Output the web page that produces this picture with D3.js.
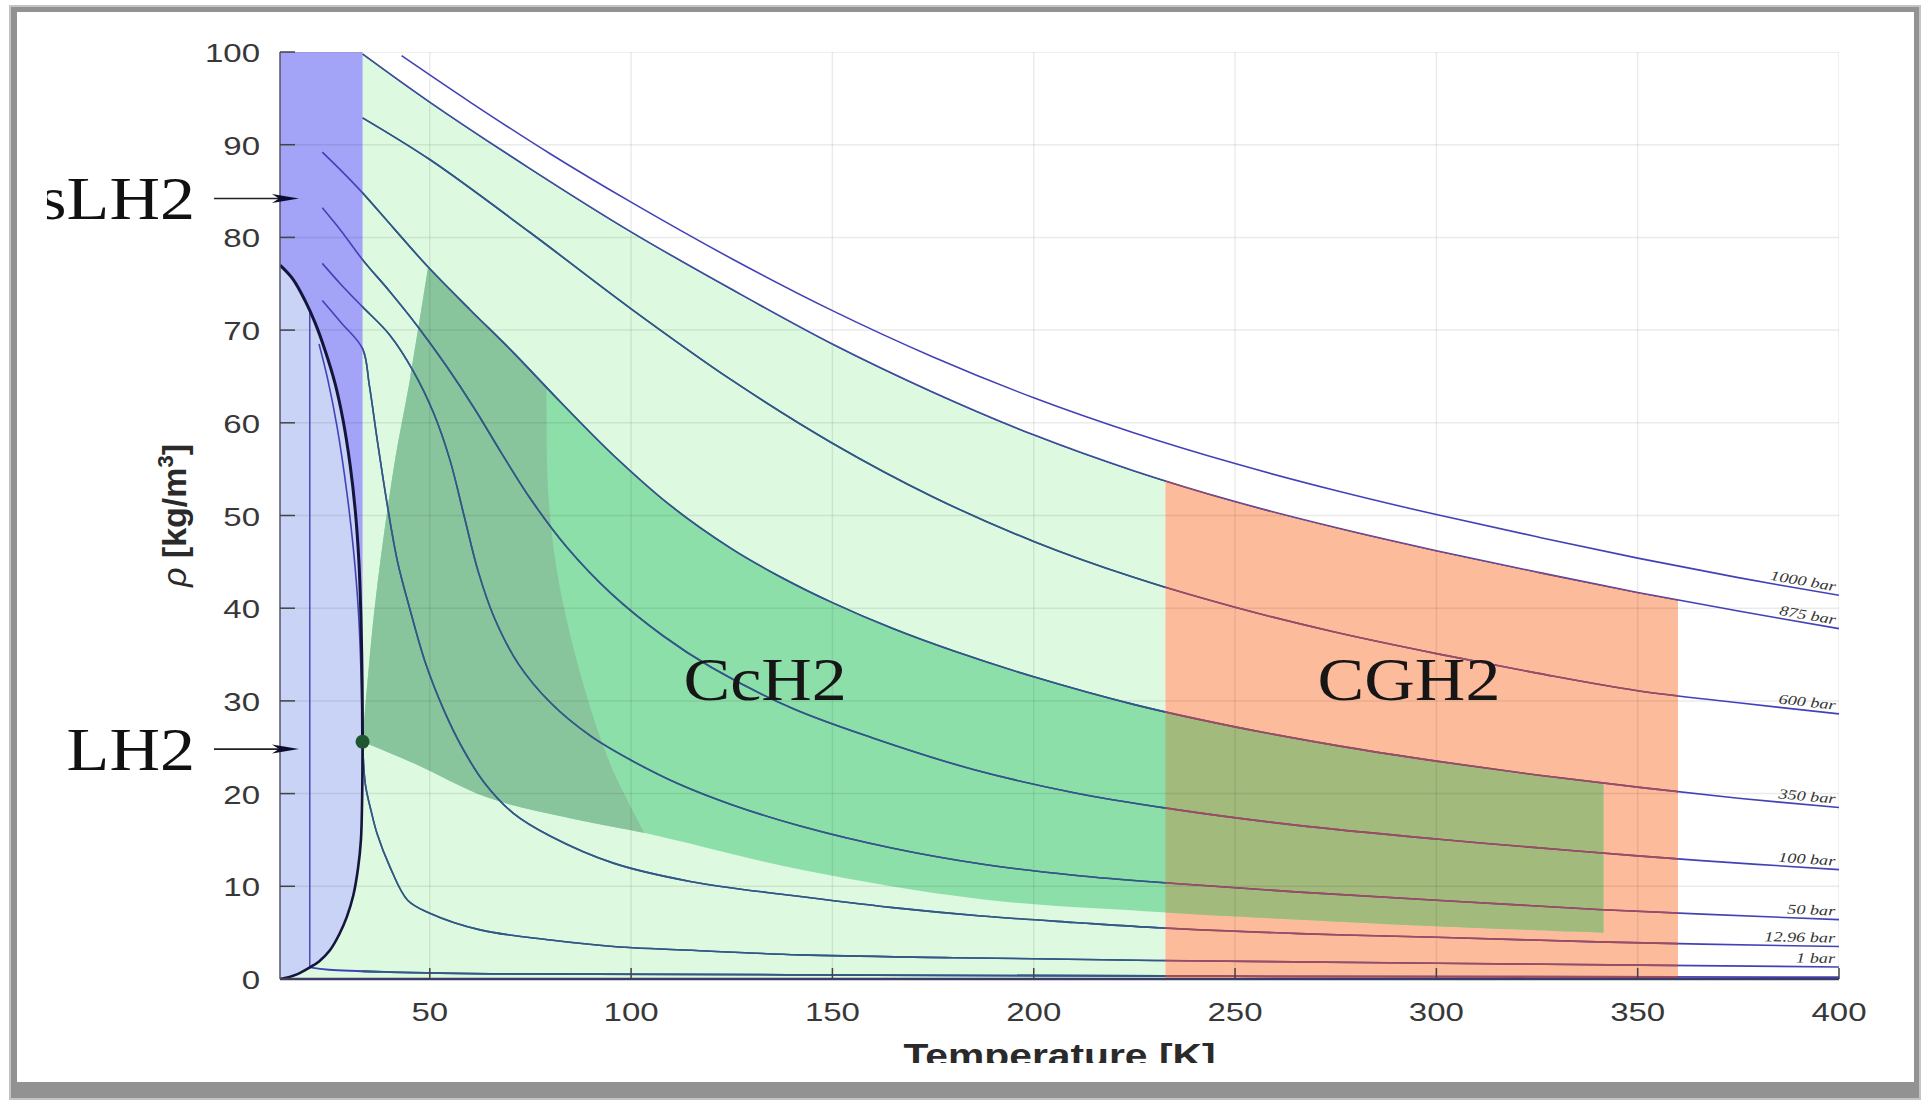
<!DOCTYPE html>
<html>
<head>
<meta charset="utf-8">
<script src="https://cdn.jsdelivr.net/npm/d3@7"></script>
<style>
html, body { margin: 0; padding: 0; background: #fff; }
svg { display: block; }
</style>
</head>
<body>
<svg id="chart" width="1926" height="1103"></svg>
<script>
// hydrogen density vs temperature with storage regions

var t_min = 12.8, t_max = 400;
var x_ticks = [50, 100, 150, 200, 250, 300, 350, 400];
var y_ticks = [0, 10, 20, 30, 40, 50, 60, 70, 80, 90, 100];

var isobar_names = ["1000 bar", "875 bar", "600 bar", "350 bar", "100 bar", "50 bar", "12.96 bar", "1 bar"];

// isobars as [T (K), rho (kg/m3)]
var p1000 = [[43,99.6],[60,94.6],[80,89],[100,83.8],[125,77.7],[150,72.1],[175,67.1],[200,62.7],[225,58.9],[250,55.6],[275,52.7],[300,50.1],[325,47.7],[350,45.4],[375,43.3],[400,41.4]];
var p875 = [[33.3,99.8],[50,94.6],[75,87.4],[100,80.6],[125,74.4],[150,68.5],[175,63.3],[200,58.7],[225,54.8],[250,51.5],[275,48.7],[300,46.2],[325,43.9],[350,41.7],[375,39.7],[400,37.8]];
var p600 = [[33.3,92.9],[50,88.4],[75,80.5],[100,72.3],[125,64.6],[150,57.8],[175,52],[200,47.2],[225,43.3],[250,40.1],[275,37.4],[300,35.1],[325,33],[350,31.1],[375,29.8],[400,28.6]];
var p350 = [[23.3,89.2],[28,87.2],[33.3,84.8],[41,81],[49.6,76.8],[60,72.2],[70.7,67.6],[83,62],[95.6,56.5],[110,51],[125,46.4],[137,43.4],[150,40.6],[165,37.8],[180,35.4],[200,32.6],[225,29.6],[250,27.2],[275,25.2],[300,23.5],[325,22],[350,20.7],[375,19.5],[400,18.5]];
var p100 = [[23.3,83.2],[28,80.7],[33.3,77.6],[40,74.2],[47,70.4],[54,66.2],[61,61.6],[68,56.6],[75,51.8],[84,46.6],[95,41.6],[108,37],[120,33.6],[140,29.2],[160,26],[185,22.6],[210,20.1],[235,18.3],[265,16.6],[300,15.1],[335,13.8],[365,12.8],[400,11.8]];
var p50 = [[23.3,77.2],[28,74.9],[33.3,72.5],[40,69.5],[46,65.5],[51,61],[55,56],[58.5,50],[62,44],[66,39],[72,34],[80,29.8],[90,26.2],[100,23.6],[112,21],[125,18.8],[142,16.5],[165,14.1],[187,12.4],[210,11.2],[235,10.3],[265,9.4],[300,8.5],[340,7.5],[400,6.4]];
var p12 = [[23.3,73.2],[28,70.8],[33.3,68],[35,64],[37,58],[39.5,51],[42,45],[45,40],[49,34],[53.5,29],[58,25],[63.5,21.2],[70.7,17.9],[80,15.4],[95.6,12.5],[115,10.5],[140,9],[165,7.7],[187,6.8],[210,6.1],[232,5.5],[266,4.9],[300,4.5],[340,4],[400,3.5]];
var p1 = [[22.5,68.5],[24.7,64.6],[27,59.5],[29.4,52.5],[31,46.5],[32.3,39.5],[33,32],[33.3,25.6],[34,21],[35.5,18],[36.9,15.7],[40.1,12.1],[44.5,8.5],[50,7.1],[62.5,5.3],[80,4.2],[95.6,3.5],[120,3],[142,2.6],[180,2.3],[230,2],[300,1.7],[400,1.3]];
var isobars = [p1000, p875, p600, p350, p100, p50, p12, p1];

// boiling line at 1 bar and the low pressure gas line along the axis
var boil_line = [[20.2,72],[20.2,1.25]];
var low_line = [[20.2,1.25],[25,1],[40,0.75],[70,0.55],[142,0.45],[250,0.3],[400,0.2]];

// saturation dome
var dome_liquid = [[12.8,77],[16,75.5],[19,73.2],[21.5,70.8],[24,67.8],[26.5,64.2],[28.5,60.2],[30.2,55.5],[31.5,50.5],[32.4,45],[32.9,39],[33.2,32],[33.3,25.6]];
var dome_vapor = [[12.8,0],[14,0.1],[17,0.5],[20.2,1.25],[22.5,1.9],[25.2,3.1],[27.5,4.8],[29.4,6.7],[31,9],[32.2,12],[32.9,15],[33.2,19.5],[33.3,25.6]];
var critical = [33.3, 25.6];

// cryo-compressed band (CcH2)
var band_left = [[33.3,25.6],[36.3,40],[41,55],[45.2,65],[49.6,76.8]];
var band_low = [[33.3,25.6],[45.9,23.3],[64.2,19.6],[83.2,17.5],[104,15.7],[142,11.8],[187,8.6],[232,7.2],[266,6.4],[300,5.7],[341.5,5.0]];
var band_end = 341.5;
var dark_right = [[79,63.8],[79.5,52],[82,43],[88,32],[95,23],[103.3,15.8]];

// compressed gas (CGH2) temperature range
var cgh2_range = [232.7, 360];

var region_labels = [["CcH2", 133.3, 30.1], ["CGH2", 293.2, 30.1]];
var arrow_labels = [["sLH2", 84.2], ["LH2", 24.8]];

var svg = d3.select("#chart");
var x = d3.scaleLinear().domain([t_min, t_max]).range([280, 1839]);
var y = d3.scaleLinear().domain([0, 100]).range([979, 52]);

var line = d3.line()
	.x(function(d) { return x(d[0]); })
	.y(function(d) { return y(d[1]); })
	.curve(d3.curveCatmullRom.alpha(0.5));

function seg(pts) {
	return line(pts).replace(/^M/, "L");
}

function at(pts, t) {
	for (var i = 1; i < pts.length; i++) {
		if (pts[i][0] >= t) {
			var a = pts[i-1], b = pts[i];
			return a[1] + (b[1] - a[1]) * (t - a[0]) / (b[0] - a[0]);
		}
	}
	return pts[pts.length-1][1];
}

function cut(pts, a, b) {
	var out = [[a, at(pts, a)]];
	pts.forEach(function(p) {
		if (p[0] > a && p[0] < b) out.push(p);
	});
	out.push([b, at(pts, b)]);
	return out;
}

function pt(t, r) {
	return x(t) + "," + y(r);
}

var defs = svg.append("defs");

// outer frame
svg.append("rect").attr("x", 9).attr("y", 5).attr("width", 1912).attr("height", 1095).attr("fill", "#c4c4c4");
svg.append("rect").attr("x", 11).attr("y", 7).attr("width", 1908).attr("height", 1091).attr("fill", "#929292");
svg.append("rect").attr("x", 17).attr("y", 12).attr("width", 1897).attr("height", 1070).attr("fill", "#fff");

defs.append("clipPath").attr("id", "plotClip")
	.append("rect")
	.attr("x", x(t_min)).attr("y", y(100))
	.attr("width", x(t_max) - x(t_min)).attr("height", y(0) - y(100));

var crit_t = critical[0];

var green_path = "M" + pt(t_min, 0) + "L" + pt(t_min, at(p875, crit_t)) +
	seg(cut(p875, crit_t, cgh2_range[0])) + "L" + pt(cgh2_range[0], 0) + "Z";
var green_zone = "M" + pt(crit_t, 0) + "L" + pt(crit_t, at(p875, crit_t)) +
	seg(cut(p875, crit_t, cgh2_range[0])) + "L" + pt(cgh2_range[0], 0) + "Z";
var orange_path = line(cut(p875, cgh2_range[0], cgh2_range[1])) +
	"L" + pt(cgh2_range[1], 0) + "L" + pt(cgh2_range[0], 0) + "Z";
var purple_path = "M" + pt(t_min, 100) + "L" + pt(crit_t, 100) +
	seg(dome_liquid.slice().reverse()) + "Z";
var blue_path = line(dome_liquid) + seg(dome_vapor.slice().reverse()) + "Z";

var top_t = band_left[band_left.length-1][0];
var band_path = line(band_left) + seg(cut(p350, top_t, band_end)) +
	seg(band_low.slice().reverse()) + "Z";
var dark_path = line(band_left) + seg(cut(p350, top_t, dark_right[0][0])) +
	seg(dark_right) + seg(cut(band_low, crit_t, dark_right[dark_right.length-1][0]).reverse()) + "Z";

defs.append("clipPath").attr("id", "clipGreen").append("path").attr("d", green_zone);
defs.append("clipPath").attr("id", "clipOrange").append("path").attr("d", orange_path);
defs.append("clipPath").attr("id", "clipCgh2").append("rect")
	.attr("x", x(cgh2_range[0])).attr("y", y(100))
	.attr("width", x(cgh2_range[1]) - x(cgh2_range[0])).attr("height", y(0) - y(100));

var plot = svg.append("g").attr("clip-path", "url(#plotClip)");

plot.append("path").attr("d", green_path).attr("fill", "#ddf9df");
plot.append("path").attr("d", orange_path).attr("fill", "#fcbb9b");
plot.append("path").attr("d", band_path).attr("fill", "#8ddfaa");
plot.append("path").attr("d", dark_path).attr("fill", "#89c59c");
plot.append("path").attr("d", band_path).attr("fill", "#a3ba7d").attr("clip-path", "url(#clipCgh2)");
plot.append("path").attr("d", purple_path).attr("fill", "#a3a3f7");
plot.append("path").attr("d", blue_path).attr("fill", "#c8d3f6");

// grid
var grid = plot.append("g").attr("stroke", "#000").attr("stroke-opacity", 0.08).attr("stroke-width", 1.5);
x_ticks.forEach(function(t) {
	grid.append("line").attr("x1", x(t)).attr("x2", x(t)).attr("y1", y(0)).attr("y2", y(100));
});
y_ticks.forEach(function(r) {
	grid.append("line").attr("x1", x(t_min)).attr("x2", x(t_max)).attr("y1", y(r)).attr("y2", y(r));
});

// isobars, tinted inside the coloured regions
function draw_lines(g, color) {
	isobars.forEach(function(pts) {
		g.append("path").attr("d", line(pts)).attr("fill", "none")
			.attr("stroke", color).attr("stroke-width", 1.6);
	});
	g.append("path").attr("d", "M" + pt(boil_line[0][0], boil_line[0][1]) + "L" + pt(boil_line[1][0], boil_line[1][1]))
		.attr("fill", "none").attr("stroke", color).attr("stroke-width", 1.4);
	g.append("path").attr("d", line(low_line)).attr("fill", "none")
		.attr("stroke", color).attr("stroke-width", 1.8);
}
draw_lines(plot.append("g"), "#4242b8");
draw_lines(plot.append("g").attr("clip-path", "url(#clipGreen)"), "#2f5c7e");
draw_lines(plot.append("g").attr("clip-path", "url(#clipOrange)"), "#a34c58");

// dome
plot.append("path").attr("d", line(dome_liquid)).attr("fill", "none").attr("stroke", "#14143c").attr("stroke-width", 3);
plot.append("path").attr("d", line(dome_vapor)).attr("fill", "none").attr("stroke", "#14143c").attr("stroke-width", 2.6);
svg.append("circle").attr("cx", x(critical[0])).attr("cy", y(critical[1])).attr("r", 7).attr("fill", "#1f5631");

// axes
svg.append("line").attr("x1", x(t_min)).attr("x2", x(t_min)).attr("y1", y(0)).attr("y2", y(100))
	.attr("stroke", "#55556a").attr("stroke-width", 1.5);
svg.append("line").attr("x1", x(t_min)).attr("x2", x(t_max)).attr("y1", y(0)).attr("y2", y(0))
	.attr("stroke", "#3c3c66").attr("stroke-width", 2.5);

x_ticks.forEach(function(t) {
	svg.append("line").attr("x1", x(t)).attr("x2", x(t)).attr("y1", y(0)).attr("y2", y(0) - 11)
		.attr("stroke", "#444").attr("stroke-width", 1.5);
	svg.append("text")
		.attr("transform", "translate(" + x(t) + "," + (y(0) + 42) + ") scale(1.27,1)")
		.attr("text-anchor", "middle")
		.attr("font-family", "'Liberation Sans', Arial, sans-serif")
		.attr("font-size", 26).attr("fill", "#383838")
		.text(t);
});
y_ticks.forEach(function(r) {
	svg.append("line").attr("x1", x(t_min)).attr("x2", x(t_min) + 15).attr("y1", y(r)).attr("y2", y(r))
		.attr("stroke", "#444").attr("stroke-width", 1.5);
	svg.append("text")
		.attr("transform", "translate(" + (x(t_min) - 20) + "," + (y(r) + 10) + ") scale(1.27,1)")
		.attr("text-anchor", "end")
		.attr("font-family", "'Liberation Sans', Arial, sans-serif")
		.attr("font-size", 26).attr("fill", "#383838")
		.text(r);
});

// axis titles
defs.append("clipPath").attr("id", "xlabClip").append("rect")
	.attr("x", 0).attr("y", 0).attr("width", 1926).attr("height", 1063);
svg.append("g").attr("clip-path", "url(#xlabClip)")
	.append("text")
	.attr("transform", "translate(" + ((x(t_min) + x(t_max)) / 2) + ",1067) scale(1.2,1)")
	.attr("text-anchor", "middle")
	.attr("font-family", "'Liberation Sans', Arial, sans-serif")
	.attr("font-size", 34).attr("font-weight", "bold").attr("fill", "#2a2a2a")
	.text("Temperature [K]");

var ylab = svg.append("text")
	.attr("transform", "translate(186," + ((y(0) + y(100)) / 2) + ") rotate(-90)")
	.attr("text-anchor", "middle")
	.attr("font-family", "'Liberation Sans', Arial, sans-serif")
	.attr("font-size", 34).attr("font-weight", "bold").attr("fill", "#2a2a2a");
ylab.append("tspan").attr("font-style", "italic").attr("font-weight", "normal").text("ρ");
ylab.append("tspan").text(" [kg/m");
ylab.append("tspan").attr("font-size", 22).attr("dy", -13).text("3");
ylab.append("tspan").attr("dy", 13).text("]");

// isobar labels at the right end
isobars.forEach(function(pts, i) {
	var a = pts[pts.length-2], b = pts[pts.length-1];
	var ang = Math.atan2(y(b[1]) - y(a[1]), x(b[0]) - x(a[0])) * 180 / Math.PI;
	svg.append("text")
		.attr("transform", "translate(" + (x(b[0]) - 4) + "," + (y(b[1]) - 4) + ") rotate(" + ang + ") scale(1.3,1)")
		.attr("text-anchor", "end")
		.attr("font-family", "'Liberation Serif', 'Times New Roman', serif")
		.attr("font-style", "italic")
		.attr("font-size", 14).attr("fill", "#333")
		.text(isobar_names[i]);
});

// region names
region_labels.forEach(function(d) {
	svg.append("text")
		.attr("transform", "translate(" + x(d[1]) + "," + y(d[2]) + ") scale(1.13,1)")
		.attr("text-anchor", "middle")
		.attr("font-family", "'Liberation Serif', 'Times New Roman', serif")
		.attr("font-size", 62).attr("fill", "#161616")
		.text(d[0]);
});

// sLH2 / LH2 arrows
defs.append("clipPath").attr("id", "leftClip").append("rect")
	.attr("x", 47).attr("y", 0).attr("width", 1900).attr("height", 1103);
var left_g = svg.append("g").attr("clip-path", "url(#leftClip)");
arrow_labels.forEach(function(d) {
	var yy = y(d[1]);
	var x0 = x(t_min);
	left_g.append("text")
		.attr("transform", "translate(" + (x0 - 85) + "," + (yy + 21) + ") scale(1.13,1)")
		.attr("text-anchor", "end")
		.attr("font-family", "'Liberation Serif', 'Times New Roman', serif")
		.attr("font-size", 62).attr("fill", "#111")
		.text(d[0]);
	svg.append("line").attr("x1", x0 - 66).attr("x2", x0 + 8).attr("y1", yy).attr("y2", yy)
		.attr("stroke", "#222").attr("stroke-width", 1.6);
	svg.append("path")
		.attr("d", "M" + (x0 + 19) + "," + yy + "L" + (x0 - 8) + "," + (yy - 4.5) +
			"L" + (x0 - 1) + "," + yy + "L" + (x0 - 8) + "," + (yy + 4.5) + "Z")
		.attr("fill", "#0c0c30");
});
</script>
</body>
</html>
